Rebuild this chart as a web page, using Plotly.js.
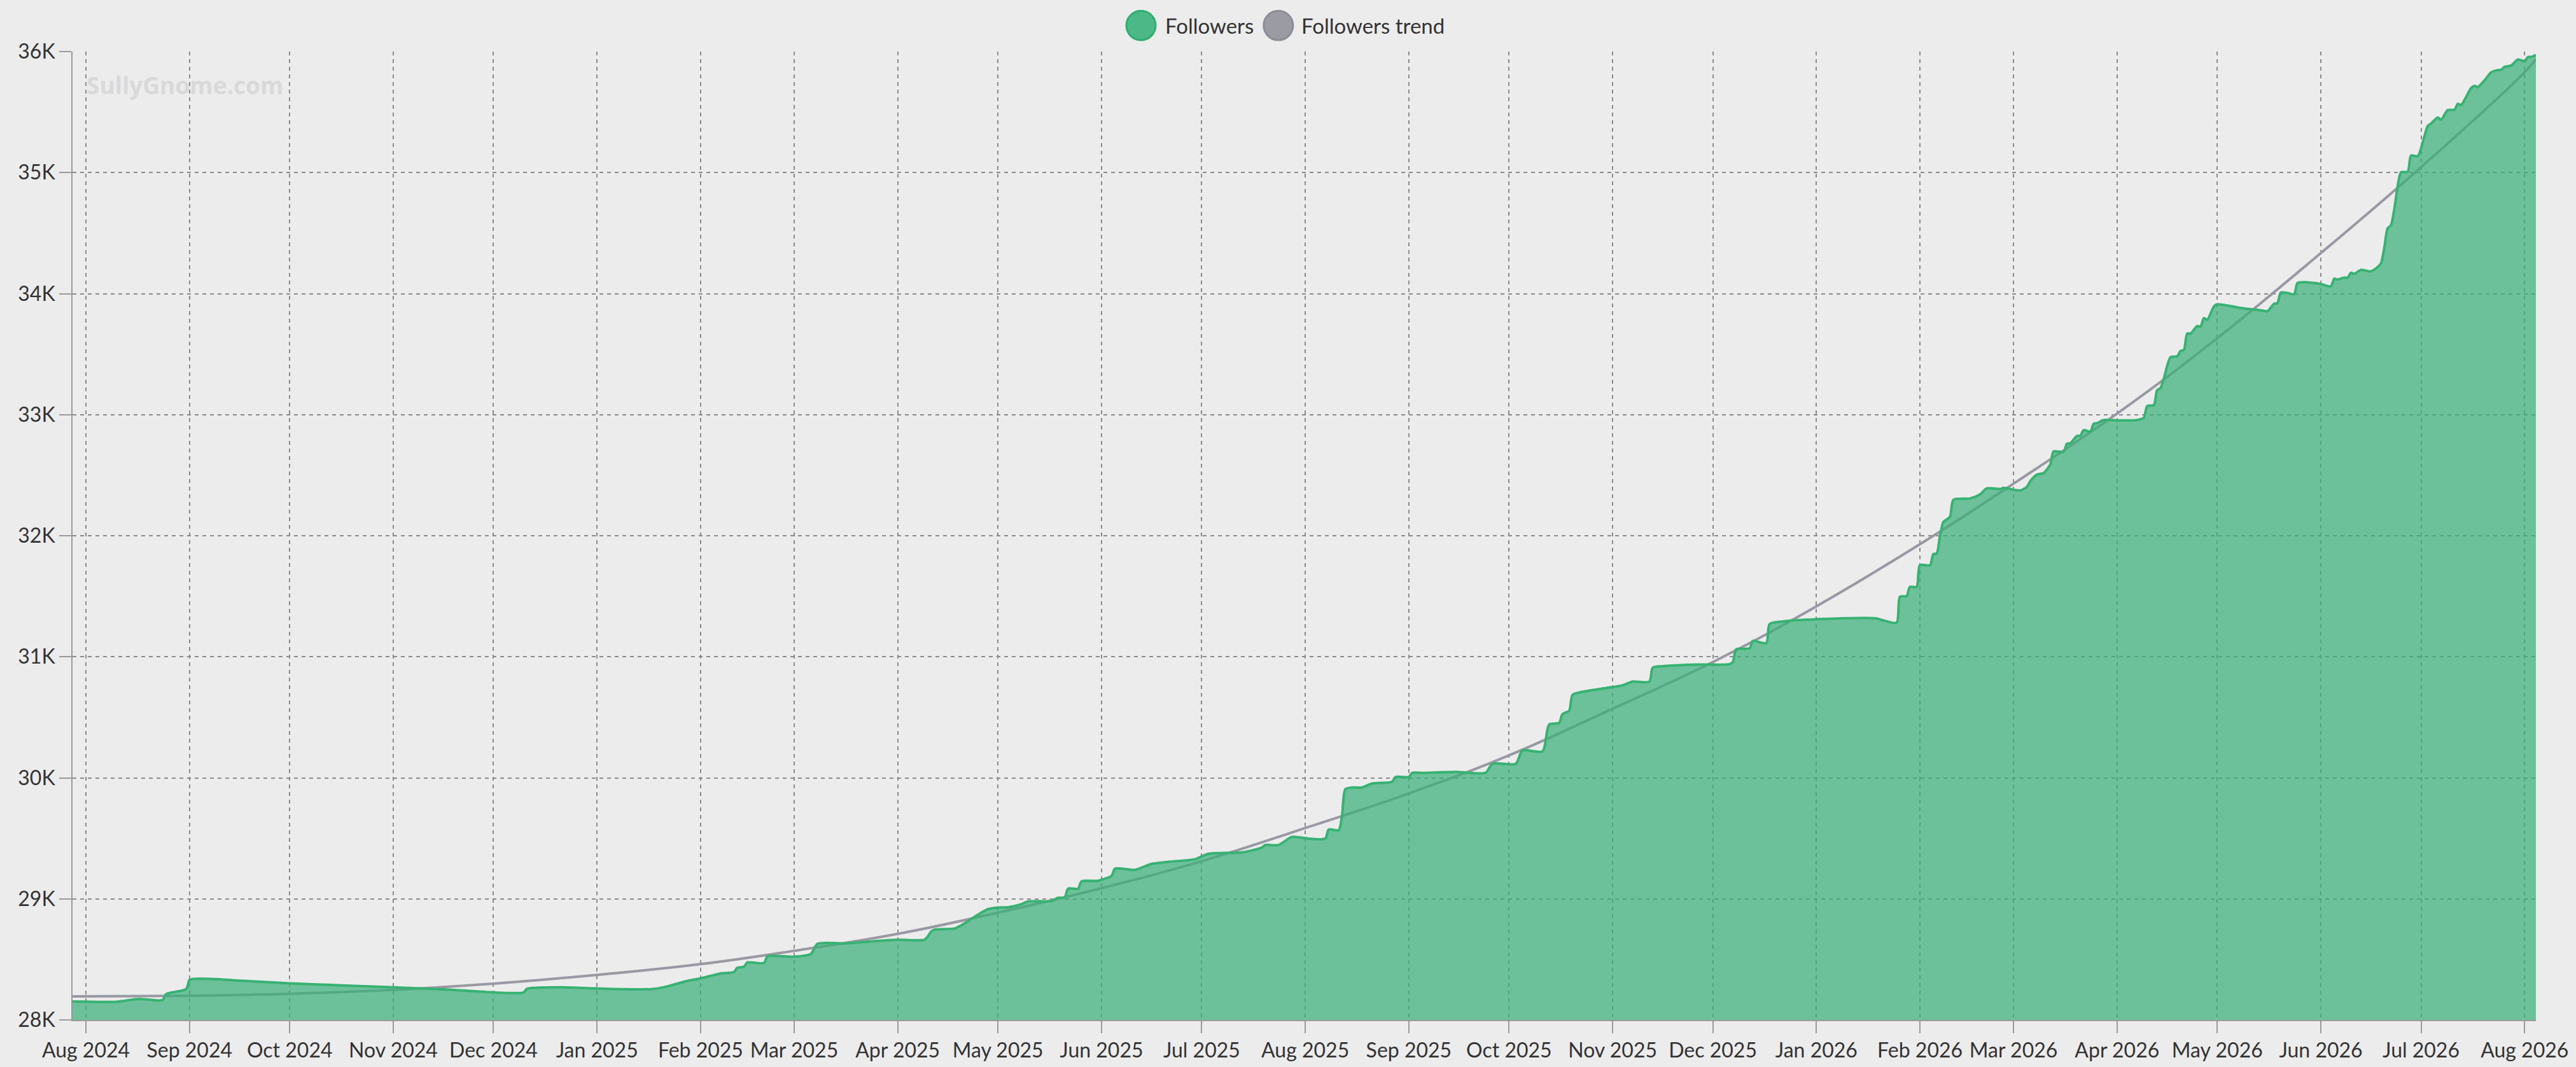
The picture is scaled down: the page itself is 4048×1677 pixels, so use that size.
<!DOCTYPE html>
<html>
<head>
<meta charset="utf-8">
<script src="https://cdn.plot.ly/plotly-3.0.1.min.js"></script>
<style>
html, body { margin: 0; padding: 0; background: #ececec; }
#chart { width: 4048px; height: 1677px; }
</style>
</head>
<body>
<div id="chart"></div>
<script>
// ---- data ----
const followerDates = [
"2024-07-28","2024-08-10","2024-08-17","2024-08-23","2024-08-24","2024-08-25","2024-08-31","2024-09-01","2024-09-02","2024-09-07",
"2024-09-17","2024-10-01","2024-11-01","2024-11-17","2024-12-10","2024-12-11","2024-12-21","2025-01-01","2025-01-09","2025-01-17",
"2025-01-21","2025-01-28","2025-02-01","2025-02-07","2025-02-11","2025-02-12","2025-02-14","2025-02-15","2025-02-20","2025-02-21",
"2025-03-01","2025-03-06","2025-03-08","2025-03-16","2025-03-25","2025-04-01","2025-04-09","2025-04-10","2025-04-11","2025-04-12",
"2025-04-18","2025-04-20","2025-04-25","2025-04-28","2025-05-01","2025-05-04","2025-05-08","2025-05-10","2025-05-17","2025-05-19",
"2025-05-21","2025-05-22","2025-05-25","2025-05-26","2025-05-31","2025-06-01","2025-06-04","2025-06-05","2025-06-07","2025-06-11",
"2025-06-16","2025-06-21","2025-06-29","2025-07-03","2025-07-13","2025-07-19","2025-07-20","2025-07-24","2025-07-28","2025-08-02",
"2025-08-07","2025-08-08","2025-08-11","2025-08-12","2025-08-13","2025-08-15","2025-08-18","2025-08-21","2025-08-27","2025-08-28",
"2025-09-01","2025-09-02","2025-09-05","2025-09-15","2025-09-24","2025-09-26","2025-10-03","2025-10-05","2025-10-11","2025-10-13",
"2025-10-16","2025-10-17","2025-10-19","2025-10-20","2025-10-23","2025-11-01","2025-11-04","2025-11-07","2025-11-12","2025-11-13",
"2025-11-16","2025-11-26","2025-12-06","2025-12-07","2025-12-08","2025-12-12","2025-12-13","2025-12-17","2025-12-18","2025-12-22",
"2026-01-01","2026-01-19","2026-01-21","2026-01-25","2026-01-26","2026-01-28","2026-01-29","2026-01-31","2026-02-01","2026-02-04",
"2026-02-05","2026-02-06","2026-02-07","2026-02-08","2026-02-10","2026-02-11","2026-02-16","2026-02-19","2026-02-21","2026-02-25",
"2026-02-26","2026-03-03","2026-03-05","2026-03-06","2026-03-08","2026-03-10","2026-03-12","2026-03-13","2026-03-16","2026-03-17",
"2026-03-18","2026-03-20","2026-03-21","2026-03-22","2026-03-24","2026-03-25","2026-03-26","2026-03-28","2026-04-01","2026-04-07",
"2026-04-09","2026-04-10","2026-04-12","2026-04-13","2026-04-14","2026-04-15","2026-04-17","2026-04-19","2026-04-20","2026-04-21",
"2026-04-22","2026-04-23","2026-04-25","2026-04-26","2026-04-27","2026-04-28","2026-04-30","2026-05-01","2026-05-08","2026-05-15",
"2026-05-16","2026-05-18","2026-05-19","2026-05-20","2026-05-22","2026-05-24","2026-05-25","2026-05-27","2026-06-01","2026-06-04",
"2026-06-05","2026-06-06","2026-06-08","2026-06-09","2026-06-10","2026-06-11","2026-06-13","2026-06-16","2026-06-18","2026-06-19",
"2026-06-20","2026-06-21","2026-06-22","2026-06-23","2026-06-24","2026-06-25","2026-06-27","2026-06-28","2026-06-30","2026-07-02",
"2026-07-03","2026-07-04","2026-07-06","2026-07-07","2026-07-09","2026-07-11","2026-07-12","2026-07-13","2026-07-16","2026-07-17",
"2026-07-18","2026-07-20","2026-07-22","2026-07-24","2026-07-25","2026-07-26","2026-07-28","2026-07-30","2026-08-01","2026-08-02",
"2026-08-03","2026-08-04 09:00"
];
const followerValues = [
28152,28150,28174,28160,28165,28213,28255,28330,28338,28339,
28323,28302,28269,28251,28227,28257,28270,28260,28254,28254,
28270,28322,28343,28384,28396,28431,28440,28475,28470,28524,
28522,28545,28629,28632,28650,28662,28662,28690,28730,28746,
28755,28781,28869,28915,28928,28930,28956,28979,28982,29009,
29012,29084,29084,29144,29149,29158,29190,29249,29250,29240,
29289,29306,29328,29372,29384,29424,29445,29445,29512,29498,
29498,29573,29568,29687,29906,29920,29920,29953,29967,30007,
30007,30041,30041,30049,30042,30116,30116,30226,30219,30440,
30454,30527,30554,30685,30711,30750,30764,30795,30795,30909,
30922,30936,30939,30957,31061,31070,31131,31113,31270,31292,
31310,31317,31301,31282,31496,31501,31577,31577,31757,31757,
31849,31852,32000,32113,32157,32296,32308,32342,32391,32386,
32395,32374,32404,32450,32505,32518,32588,32696,32693,32760,
32763,32825,32825,32872,32860,32925,32930,32956,32953,32956,
32975,33070,33079,33202,33219,33298,33474,33482,33526,33535,
33670,33670,33732,33728,33798,33784,33895,33912,33882,33858,
33854,33916,33921,34009,34005,33995,34088,34094,34079,34061,
34123,34117,34133,34131,34172,34163,34196,34184,34219,34250,
34380,34540,34565,34700,34888,35002,35007,35141,35136,35300,
35385,35406,35455,35437,35516,35519,35568,35559,35699,35716,
35707,35762,35829,35847,35850,35873,35885,35934,35920,35955,
35955,35972
];
const trendDates = [
"2024-07-28","2024-09-01","2024-10-01","2024-11-01","2024-12-01","2025-01-01","2025-02-01","2025-03-01","2025-04-01",
"2025-05-01","2025-06-01","2025-07-01","2025-08-01","2025-09-01","2025-10-01","2025-11-01","2025-12-01","2026-01-01",
"2026-02-01","2026-03-01","2026-04-01","2026-05-01","2026-06-01","2026-07-01","2026-08-01","2026-08-04 09:00"
];
const trendValues = [
28195,28200,28216,28248,28300,28372,28461,28571,28711,
28886,29088,29311,29585,29871,30186,30571,30957,31417,
31930,32430,33009,33632,34335,35045,35829,35937
];
const yTickValues = [28000,29000,30000,31000,32000,33000,34000,35000,36000];
const yTickLabels = ["28K","29K","30K","31K","32K","33K","34K","35K","36K"];
const seriesNames = ["Followers","Followers trend"];

// ---- chart ----
const FONT = 'Lato, "Segoe UI", sans-serif';
const TEXT = '#333333';

const traces = [
  {
    type: 'scatter', mode: 'lines', name: seriesNames[1],
    x: trendDates, y: trendValues,
    line: { color: '#9899a2', width: 4, shape: 'spline', smoothing: 1.2 },
    hoverinfo: 'skip', showlegend: false
  },
  {
    type: 'scatter', mode: 'lines', name: seriesNames[0],
    x: followerDates, y: followerValues,
    line: { color: '#38b273', width: 4, shape: 'spline', smoothing: 0.7 },
    fill: 'tozeroy', fillcolor: 'rgba(56,175,120,0.70)',
    hoverinfo: 'skip', showlegend: false
  }
];

// custom legend (large round swatches like the reference)
const legY = 1.0269;
const legend = [
  { cx: 0.43374, color: '#4db887', border: '#2fae6f', tx: 0.44294, label: seriesNames[0] },
  { cx: 0.48949, color: '#9a9ba3', border: '#8b8c95', tx: 0.49829, label: seriesNames[1] }
];
const shapes = legend.map(l => ({
  type: 'circle', xref: 'paper', yref: 'paper',
  xsizemode: 'pixel', ysizemode: 'pixel',
  xanchor: l.cx, yanchor: legY,
  x0: -23, x1: 23, y0: -23, y1: 23,
  fillcolor: l.color, line: { color: l.border, width: 3 }
}));
const annotations = legend.map(l => ({
  xref: 'paper', yref: 'paper', x: l.tx, y: legY,
  xanchor: 'left', yanchor: 'middle', showarrow: false,
  text: l.label, font: { family: FONT, size: 33, color: TEXT }
}));
annotations.push({
  xref: 'paper', yref: 'paper', x: 0.0052, y: 0.9655,
  xanchor: 'left', yanchor: 'middle', showarrow: false,
  text: '<b>SullyGnome.com</b>',
  font: { family: '"Open Sans", Lato, sans-serif', size: 37, color: '#d9d9d9' }
});

const layout = {
  width: 4048, height: 1677,
  paper_bgcolor: '#ececec', plot_bgcolor: '#ececec',
  margin: { l: 114, r: 63, t: 81, b: 74, pad: 0 },
  showlegend: false,
  font: { family: FONT, size: 32, color: TEXT },
  xaxis: {
    type: 'date',
    range: ['2024-07-28', '2026-08-04 09:00'],
    tick0: '2024-08-01', dtick: 'M1', tickformat: '%b %Y', tickangle: 0,
    ticks: 'outside', ticklen: 19, tickwidth: 2, tickcolor: '#9a9a9a',
    showline: true, linecolor: '#9a9a9a', linewidth: 2,
    showgrid: true, gridcolor: '#8a8a8a', gridwidth: 2, griddash: '6px,6px',
    zeroline: false,
    tickfont: { family: FONT, size: 32, color: TEXT },
    fixedrange: true
  },
  yaxis: {
    range: [28000, 36000],
    tickmode: 'array', tickvals: yTickValues, ticktext: yTickLabels,
    ticks: 'outside', ticklen: 19, tickwidth: 2, tickcolor: '#9a9a9a',
    showline: true, linecolor: '#9a9a9a', linewidth: 2,
    showgrid: true, gridcolor: '#8a8a8a', gridwidth: 2, griddash: '6px,6px',
    zeroline: false,
    tickfont: { family: FONT, size: 32, color: TEXT },
    fixedrange: true
  },
  shapes: shapes,
  annotations: annotations
};

Plotly.newPlot('chart', traces, layout, { displayModeBar: false, staticPlot: true });
</script>
</body>
</html>
